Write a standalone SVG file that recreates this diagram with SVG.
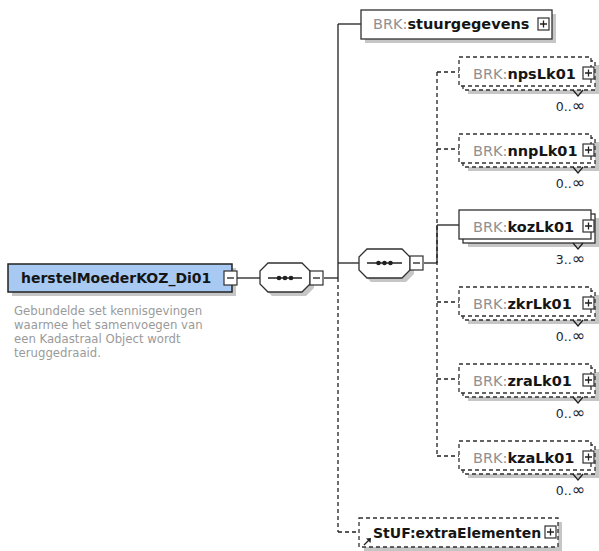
<svg xmlns="http://www.w3.org/2000/svg" width="599" height="551" viewBox="0 0 599 551">
<style>
.bg{fill:#ffffff}
.sh{fill:#c6c6c6;stroke:none}
.box{fill:#ffffff;stroke:#303030;stroke-width:1.3}
.dbox{fill:#ffffff;stroke:#303030;stroke-width:1.3;stroke-dasharray:4 3}
.ln{fill:none;stroke:#202020;stroke-width:1.3}
.dln{fill:none;stroke:#202020;stroke-width:1.3;stroke-dasharray:4 3}
.t{font-family:"DejaVu Sans",Verdana,sans-serif;font-size:14.5px;font-weight:bold;fill:#151515}
.p{font-weight:normal;fill:#909090}
.m{font-family:"DejaVu Sans",Verdana,sans-serif;font-size:12.5px;fill:#1c2636;text-anchor:end}
.inf{font-size:16px}
.d{font-family:"DejaVu Sans",Verdana,sans-serif;font-size:11.7px;fill:#9a9a9a}
.pm{fill:#ffffff;stroke:#303030;stroke-width:1.2}
</style>
<defs>
<g id="plus"><rect class="pm" x="0" y="0" width="11" height="12"/><path class="ln" stroke-width="1.1" d="M2,6H9M5.5,2.5V9.5"/></g>
<g id="minus"><rect class="pm" x="0" y="0" width="13" height="14"/><path class="ln" stroke-width="1.1" d="M3,7H10"/></g>
</defs>
<rect class="bg" x="0" y="0" width="599" height="551"/>

<g id="connectors">
<path class="ln" d="M237,278H260"/>
<path class="ln" d="M324,278H338"/>
<path class="ln" d="M338,24V278"/>
<path class="dln" d="M338,278V532"/>
<path class="ln" d="M338,24H361"/>
<path class="ln" d="M338,263H359"/>
<path class="dln" d="M338,532H359"/>
<path class="ln" d="M424,263H437"/>
<path class="dln" d="M437,72V456"/>
<path class="ln" d="M437,225V263"/>
<path class="dln" d="M437,72H459"/>
<path class="dln" d="M437,149H459"/>
<path class="ln" d="M437,225H459"/>
<path class="dln" d="M437,302H459"/>
<path class="dln" d="M437,379H459"/>
<path class="dln" d="M437,456H459"/>
</g>

<g id="main">
<rect class="sh" x="12" y="268" width="224" height="28"/>
<rect x="8" y="264" width="224" height="28" fill="#a8c9f1" stroke="#222" stroke-width="1.5"/>
<text class="t" x="21" y="283" style="font-size:14px">herstelMoederKOZ_Di01</text>
<use href="#minus" x="224" y="271"/>
<text class="d" x="14" y="315">Gebundelde set kennisgevingen</text>
<text class="d" x="14" y="329">waarmee het samenvoegen van</text>
<text class="d" x="14" y="343">een Kadastraal Object wordt</text>
<text class="d" x="14" y="357">teruggedraaid.</text>
</g>

<g id="seq1">
<path class="sh" d="M272,267H306L314,275V288L306,296H272L264,288V275Z"/>
<path class="box" d="M268,263H302L310,271V284L302,292H268L260,284V271Z"/>
<path class="ln" d="M268,278H302"/>
<circle cx="279" cy="278" r="2.3" fill="#202020"/><circle cx="285" cy="278" r="2.3" fill="#202020"/><circle cx="291" cy="278" r="2.3" fill="#202020"/>
<use href="#minus" x="310" y="271"/>
</g>

<g id="seq2">
<path class="sh" d="M371,253H406L414,261V274L406,282H371L363,274V261Z"/>
<path class="box" d="M367,249H402L410,257V270L402,278H367L359,270V257Z"/>
<path class="ln" d="M367,263H402"/>
<circle cx="378.5" cy="263" r="2.3" fill="#202020"/><circle cx="384.5" cy="263" r="2.3" fill="#202020"/><circle cx="390.5" cy="263" r="2.3" fill="#202020"/>
<use href="#minus" x="410" y="256"/>
</g>

<g id="stuurgegevens">
<rect class="sh" x="365" y="14" width="191" height="29"/>
<rect class="box" x="361" y="10" width="191" height="29"/>
<text class="t" x="373" y="29"><tspan class="p">BRK:</tspan>stuurgegevens</text>
<use href="#plus" x="538" y="18"/>
</g>

<g id="npsLk01">
<rect class="sh" x="468" y="65" width="131" height="29"/>
<rect class="dbox" x="463" y="61" width="132" height="29"/>
<rect class="dbox" x="459" y="57" width="132" height="29"/>
<text class="t" x="473" y="79"><tspan class="p">BRK:</tspan>npsLk01</text>
<use href="#plus" x="583" y="67"/>
<path class="ln" d="M573,90L578,96L583,90"/>
<text class="m" x="585" y="111">0..<tspan class="inf">∞</tspan></text>
</g>

<g id="nnpLk01">
<rect class="sh" x="468" y="142" width="131" height="29"/>
<rect class="dbox" x="463" y="138" width="132" height="29"/>
<rect class="dbox" x="459" y="134" width="132" height="29"/>
<text class="t" x="473" y="156"><tspan class="p">BRK:</tspan>nnpLk01</text>
<use href="#plus" x="583" y="144"/>
<path class="ln" d="M573,167L578,173L583,167"/>
<text class="m" x="585" y="188">0..<tspan class="inf">∞</tspan></text>
</g>

<g id="kozLk01">
<rect class="sh" x="468" y="218" width="131" height="29"/>
<rect class="box" x="463" y="214" width="132" height="29"/>
<rect class="box" x="459" y="210" width="132" height="29"/>
<text class="t" x="473" y="232"><tspan class="p">BRK:</tspan>kozLk01</text>
<use href="#plus" x="583" y="220"/>
<path class="ln" d="M573,243L578,249L583,243"/>
<text class="m" x="585" y="264">3..<tspan class="inf">∞</tspan></text>
</g>

<g id="zkrLk01">
<rect class="sh" x="468" y="295" width="131" height="29"/>
<rect class="dbox" x="463" y="291" width="132" height="29"/>
<rect class="dbox" x="459" y="287" width="132" height="29"/>
<text class="t" x="473" y="309"><tspan class="p">BRK:</tspan>zkrLk01</text>
<use href="#plus" x="583" y="297"/>
<path class="ln" d="M573,320L578,326L583,320"/>
<text class="m" x="585" y="341">0..<tspan class="inf">∞</tspan></text>
</g>

<g id="zraLk01">
<rect class="sh" x="468" y="372" width="131" height="29"/>
<rect class="dbox" x="463" y="368" width="132" height="29"/>
<rect class="dbox" x="459" y="364" width="132" height="29"/>
<text class="t" x="473" y="386"><tspan class="p">BRK:</tspan>zraLk01</text>
<use href="#plus" x="583" y="374"/>
<path class="ln" d="M573,397L578,403L583,397"/>
<text class="m" x="585" y="418">0..<tspan class="inf">∞</tspan></text>
</g>

<g id="kzaLk01">
<rect class="sh" x="468" y="449" width="131" height="29"/>
<rect class="dbox" x="463" y="445" width="132" height="29"/>
<rect class="dbox" x="459" y="441" width="132" height="29"/>
<text class="t" x="473" y="463"><tspan class="p">BRK:</tspan>kzaLk01</text>
<use href="#plus" x="583" y="451"/>
<path class="ln" d="M573,474L578,480L583,474"/>
<text class="m" x="585" y="495">0..<tspan class="inf">∞</tspan></text>
</g>

<g id="extraElementen">
<rect class="sh" x="364" y="522" width="198" height="29"/>
<rect class="dbox" x="359" y="518" width="199" height="29"/>
<text class="t" x="373" y="538" style="font-size:14px">StUF:extraElementen</text>
<use href="#plus" x="545" y="526"/>
<path class="ln" stroke-width="1.6" d="M364,545L370,539"/>
<path d="M371,538L366,538.5L370.5,543Z" fill="#202020"/>
</g>
</svg>
